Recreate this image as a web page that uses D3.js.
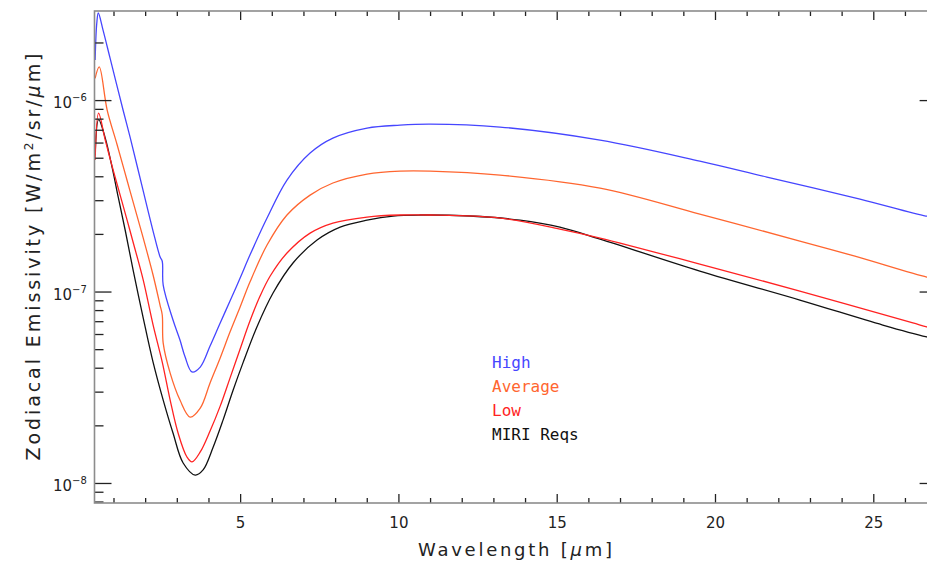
<!DOCTYPE html>
<html><head><meta charset="utf-8">
<script src="https://cdn.jsdelivr.net/npm/d3@7"></script>
<style>html,body{margin:0;padding:0;background:#fff;}svg{display:block;}</style>
</head><body>
<svg id="chart" width="927" height="565"></svg>
<script>
// ---- data ----
const seriesNames = ["High", "Average", "Low", "MIRI Reqs"];
const seriesColors = ["#4646ff", "#ff6630", "#ff2222", "#111111"];

const highWl  = [0.42,0.47,0.52,0.67,0.89,1.30,1.53,1.90,2.25,2.47,2.54,2.57,2.88,3.10,3.26,3.48,3.74,4.05,4.37,4.68,5.00,5.31,5.85,6.48,7.21,7.93,9.01,10.05,11.0,13.21,16.37,19.52,21.64,24.58,26.66,27];
const highVal = [1.62e-6,2.5e-6,2.85e-6,2.32e-6,1.66e-6,8.9e-7,6.35e-7,3.56e-7,2.07e-7,1.52e-7,1.44e-7,1.08e-7,7.1e-8,5.58e-8,4.56e-8,3.8e-8,4.03e-8,5.19e-8,6.85e-8,8.92e-8,1.176e-7,1.55e-7,2.42e-7,3.82e-7,5.29e-7,6.33e-7,7.14e-7,7.40e-7,7.49e-7,7.23e-7,6.18e-7,4.80e-7,3.96e-7,3.04e-7,2.48e-7,2.45e-7];

const avgWl  = [0.42,0.55,0.80,1.11,1.43,1.75,1.94,2.25,2.47,2.54,2.57,2.79,3.10,3.42,3.74,4.05,4.37,4.68,5.00,5.31,5.85,6.48,7.21,7.93,9.01,10.05,11.0,13.21,16.37,19.52,22.68,24.42,26.69,27];
const avgVal = [1.30e-6,1.49e-6,8.87e-7,5.88e-7,3.80e-7,2.46e-7,1.90e-7,1.22e-7,8.5e-8,7.54e-8,5.38e-8,3.75e-8,2.71e-8,2.21e-8,2.46e-8,3.33e-8,4.50e-8,6.14e-8,8.30e-8,1.121e-7,1.749e-7,2.51e-7,3.19e-7,3.69e-7,4.11e-7,4.26e-7,4.26e-7,4.06e-7,3.47e-7,2.54e-7,1.835e-7,1.53e-7,1.19e-7,1.17e-7];

const lowWl  = [0.42,0.53,0.74,0.99,1.21,1.43,1.62,1.94,2.25,2.54,2.79,3.04,3.32,3.48,3.74,4.05,4.37,4.68,5.00,5.31,5.63,5.95,6.48,7.21,7.93,9.01,10.05,11.0,13.21,15.10,16.37,19.52,22.68,26.25,26.69,27];
const lowVal = [4.86e-7,8.55e-7,6.18e-7,4.31e-7,3.19e-7,2.36e-7,1.81e-7,1.148e-7,6.7e-8,4.28e-8,2.71e-8,1.824e-8,1.367e-8,1.288e-8,1.452e-8,1.868e-8,2.52e-8,3.53e-8,5.01e-8,7.01e-8,9.47e-8,1.205e-7,1.589e-7,2.02e-7,2.28e-7,2.45e-7,2.51e-7,2.51e-7,2.42e-7,2.12e-7,1.903e-7,1.391e-7,1.006e-7,6.85e-8,6.53e-8,6.4e-8];

const miriWl  = [0.42,0.53,0.74,0.96,1.15,1.37,1.62,1.94,2.25,2.57,2.88,3.20,3.58,3.83,4.15,4.46,4.78,5.09,5.53,6.04,6.67,7.43,8.16,9.01,9.83,10.68,12.26,13.84,15.10,16.37,19.52,22.68,25.30,26.69,27];
const miriVal = [5.16e-7,7.9e-7,6.33e-7,4.42e-7,3.11e-7,2.09e-7,1.294e-7,7.27e-8,4.28e-8,2.71e-8,1.824e-8,1.272e-8,1.10e-8,1.17e-8,1.542e-8,2.13e-8,3.06e-8,4.24e-8,6.53e-8,9.82e-8,1.41e-7,1.858e-7,2.17e-7,2.36e-7,2.48e-7,2.51e-7,2.48e-7,2.36e-7,2.17e-7,1.88e-7,1.279e-7,9.03e-8,6.68e-8,5.79e-8,5.65e-8];

const xMajorTicks = [5, 10, 15, 20, 25];
const xMinorTicks = [1,2,3,4,6,7,8,9,11,12,13,14,16,17,18,19,21,22,23,24,26];
const yMajorTicks = [1e-8, 1e-7, 1e-6];
const yMajorExp   = ["−8", "−7", "−6"];
const yMinorTicks = [8e-9,9e-9,2e-8,3e-8,4e-8,5e-8,6e-8,7e-8,8e-8,9e-8,2e-7,3e-7,4e-7,5e-7,6e-7,7e-7,8e-7,9e-7,2e-6];

// ---- layout ----
const svg = d3.select("#chart");
const pL = 94.5, pR = 936.6, pT = 11, pB = 503;
const x = d3.scaleLinear().domain([0.4, 27]).range([pL, pR]);
const y = d3.scaleLog().domain([7.86e-9, 2.92e-6]).range([pB, pT]);

const series = [
  {wl: highWl, val: highVal},
  {wl: avgWl, val: avgVal},
  {wl: lowWl, val: lowVal},
  {wl: miriWl, val: miriVal}
];

svg.append("defs").append("clipPath").attr("id","clip")
  .append("rect").attr("x", pL).attr("y", pT).attr("width", pR-pL).attr("height", pB-pT);

const line = d3.line().x(d => x(d[0])).y(d => y(d[1])).curve(d3.curveCatmullRom.alpha(0.5));
const g = svg.append("g").attr("clip-path","url(#clip)");
[3,2,1,0].forEach(i => {
  const s = series[i];
  g.append("path")
    .datum(s.wl.map((w,k) => [w, s.val[k]]))
    .attr("fill","none")
    .attr("stroke", seriesColors[i])
    .attr("stroke-width", 1.3)
    .attr("stroke-linejoin","round")
    .attr("d", line);
});

// ---- axes ----
function styleAxis(sel) {
  sel.select(".domain").remove();
  sel.selectAll(".tick line").attr("stroke","#222").attr("stroke-width",1.3);
  sel.selectAll("text").attr("font-family","DejaVu Sans, sans-serif").attr("font-size",15).attr("fill","#222");
}
svg.append("g").attr("transform",`translate(0,${pB})`)
  .call(d3.axisBottom(x).tickValues(xMajorTicks).tickSizeInner(-9).tickSizeOuter(0).tickPadding(14).tickFormat(d3.format("d")))
  .call(styleAxis);
svg.append("g").attr("transform",`translate(0,${pB})`)
  .call(d3.axisBottom(x).tickValues(xMinorTicks).tickSizeInner(-5).tickSizeOuter(0).tickFormat(""))
  .call(styleAxis);
svg.append("g").attr("transform",`translate(0,${pT})`)
  .call(d3.axisTop(x).tickValues(xMajorTicks).tickSizeInner(-9).tickSizeOuter(0).tickFormat(""))
  .call(styleAxis);
svg.append("g").attr("transform",`translate(0,${pT})`)
  .call(d3.axisTop(x).tickValues(xMinorTicks).tickSizeInner(-5).tickSizeOuter(0).tickFormat(""))
  .call(styleAxis);

svg.append("g").attr("transform",`translate(${pL},0)`)
  .call(d3.axisLeft(y).tickValues(yMajorTicks).tickSizeInner(-17).tickSizeOuter(0).tickFormat(""))
  .call(styleAxis);
svg.append("g").attr("transform",`translate(${pL},0)`)
  .call(d3.axisLeft(y).tickValues(yMinorTicks).tickSizeInner(-9).tickSizeOuter(0).tickFormat(""))
  .call(styleAxis);
svg.append("g").attr("transform",`translate(${pR},0)`)
  .call(d3.axisRight(y).tickValues(yMajorTicks).tickSizeInner(-17).tickSizeOuter(0).tickFormat(""))
  .call(styleAxis);
svg.append("g").attr("transform",`translate(${pR},0)`)
  .call(d3.axisRight(y).tickValues(yMinorTicks).tickSizeInner(-9).tickSizeOuter(0).tickFormat(""))
  .call(styleAxis);

// y tick labels with superscript exponent
yMajorTicks.forEach((v,i) => {
  const t = svg.append("text")
    .attr("x", 53).attr("y", y(v) + 8)
    .attr("font-family","DejaVu Sans, sans-serif").attr("font-size",15).attr("fill","#222");
  t.append("tspan").text("10");
  t.append("tspan").attr("dy",-7).attr("font-size",10).text(yMajorExp[i]);
});

// frame
svg.append("rect").attr("x",pL).attr("y",pT).attr("width",pR-pL).attr("height",pB-pT)
  .attr("fill","none").attr("stroke","#8c8c8c").attr("stroke-width",1.6);

// axis titles
const xt = svg.append("text").attr("x",515).attr("y",556).attr("text-anchor","middle")
  .attr("font-family","DejaVu Sans, sans-serif").attr("font-size",18).attr("fill","#222")
  .attr("textLength",194).attr("lengthAdjust","spacing");
xt.append("tspan").text("Wavelength [");
xt.append("tspan").attr("font-style","italic").text("μ");
xt.append("tspan").text("m]");

const yt = svg.append("text").attr("transform","translate(40,257) rotate(-90)")
  .attr("text-anchor","middle")
  .attr("font-family","DejaVu Sans, sans-serif").attr("font-size",19).attr("fill","#222")
  .attr("textLength",407).attr("lengthAdjust","spacing");
yt.append("tspan").text("Zodiacal Emissivity [W/m");
yt.append("tspan").attr("dy",-7).attr("font-size",12).text("2");
yt.append("tspan").attr("dy",7).text("/sr/");
yt.append("tspan").attr("font-style","italic").text("μ");
yt.append("tspan").text("m]");

// legend
const legendY = [368, 392, 416, 440];
seriesNames.forEach((n,i) => {
  svg.append("text").attr("x",492).attr("y",legendY[i])
    .attr("font-family","DejaVu Sans Mono, monospace").attr("font-size",16)
    .attr("fill", seriesColors[i]).text(n);
});
</script>
</body></html>
